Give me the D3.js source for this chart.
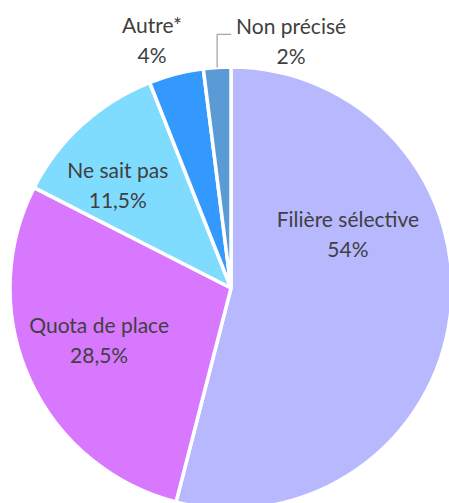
<!DOCTYPE html>
<html>
<head>
<meta charset="utf-8">
<script src="https://cdn.jsdelivr.net/npm/d3@7"></script>
<style>
  html, body { margin: 0; padding: 0; background: #fff; }
  svg { display: block; }
</style>
</head>
<body>
<svg id="chart"></svg>
<script>
// Data
const categories = ['Filière sélective', 'Quota de place', 'Ne sait pas', 'Autre*', 'Non précisé'];
const values = [54, 28.5, 11.5, 4, 2];
const valueLabels = ['54%', '28,5%', '11,5%', '4%', '2%'];
const colors = ['#b8b8ff', '#d878ff', '#80dcff', '#3399ff', '#5b9bd5'];

const width = 449, height = 503;
const cx = 231, cy = 288, radius = 221;

// Label placement: offset from centroid (inside) or from the outer edge (outside)
const labelLayout = [
  { outside: false, dx: -19, dy: -72 },
  { outside: false, dx: -7, dy: -5 },
  { outside: false, dx: -21, dy: -2 },
  { outside: true, dx: -24, dy: -34 },
  { outside: true, dx: 74, dy: -27, leader: true }
];

const svg = d3.select('#chart')
  .attr('width', width)
  .attr('height', height);

const g = svg.append('g').attr('transform', `translate(${cx},${cy})`);

const pie = d3.pie().sort(null).value(d => d);
const arcs = pie(values);

const arc = d3.arc().innerRadius(0).outerRadius(radius);
const labelArc = d3.arc().innerRadius(radius * 0.62).outerRadius(radius * 0.62);
const edgeArc = d3.arc().innerRadius(radius).outerRadius(radius);

// Slices
g.selectAll('.slice')
  .data(arcs)
  .enter()
  .append('path')
  .attr('class', 'slice')
  .attr('d', arc)
  .attr('fill', (d, i) => colors[i])
  .attr('stroke', '#fff')
  .attr('stroke-width', 3.5)
  .attr('stroke-linejoin', 'round');

// Labels
arcs.forEach((d, i) => {
  const lay = labelLayout[i];
  const base = lay.outside ? edgeArc.centroid(d) : labelArc.centroid(d);
  const x = base[0] + lay.dx;
  const y = base[1] + lay.dy;

  const leader = lay.leader ? g.append('path') : null;

  const t = g.append('text')
    .attr('text-anchor', 'middle')
    .style('font-family', 'Lato, "Noto Sans", sans-serif')
    .style('font-size', '21px')
    .style('fill', '#404040');
  const first = t.append('tspan').attr('x', x).attr('y', y - 15).attr('dominant-baseline', 'central').text(categories[i]);
  t.append('tspan').attr('x', x).attr('y', y + 15).attr('dominant-baseline', 'central').text(valueLabels[i]);

  if (leader) {
    // elbow line from the slice edge to the left side of the label
    const start = edgeArc.centroid(d);
    const textLeft = x - first.node().getComputedTextLength() / 2 - 5;
    leader
      .attr('d', `M${start[0]},${start[1]}V${y - 6}H${textLeft}`)
      .attr('fill', 'none')
      .attr('stroke', '#a6a6a6')
      .attr('stroke-width', 1.3);
  }
});
</script>
</body>
</html>
